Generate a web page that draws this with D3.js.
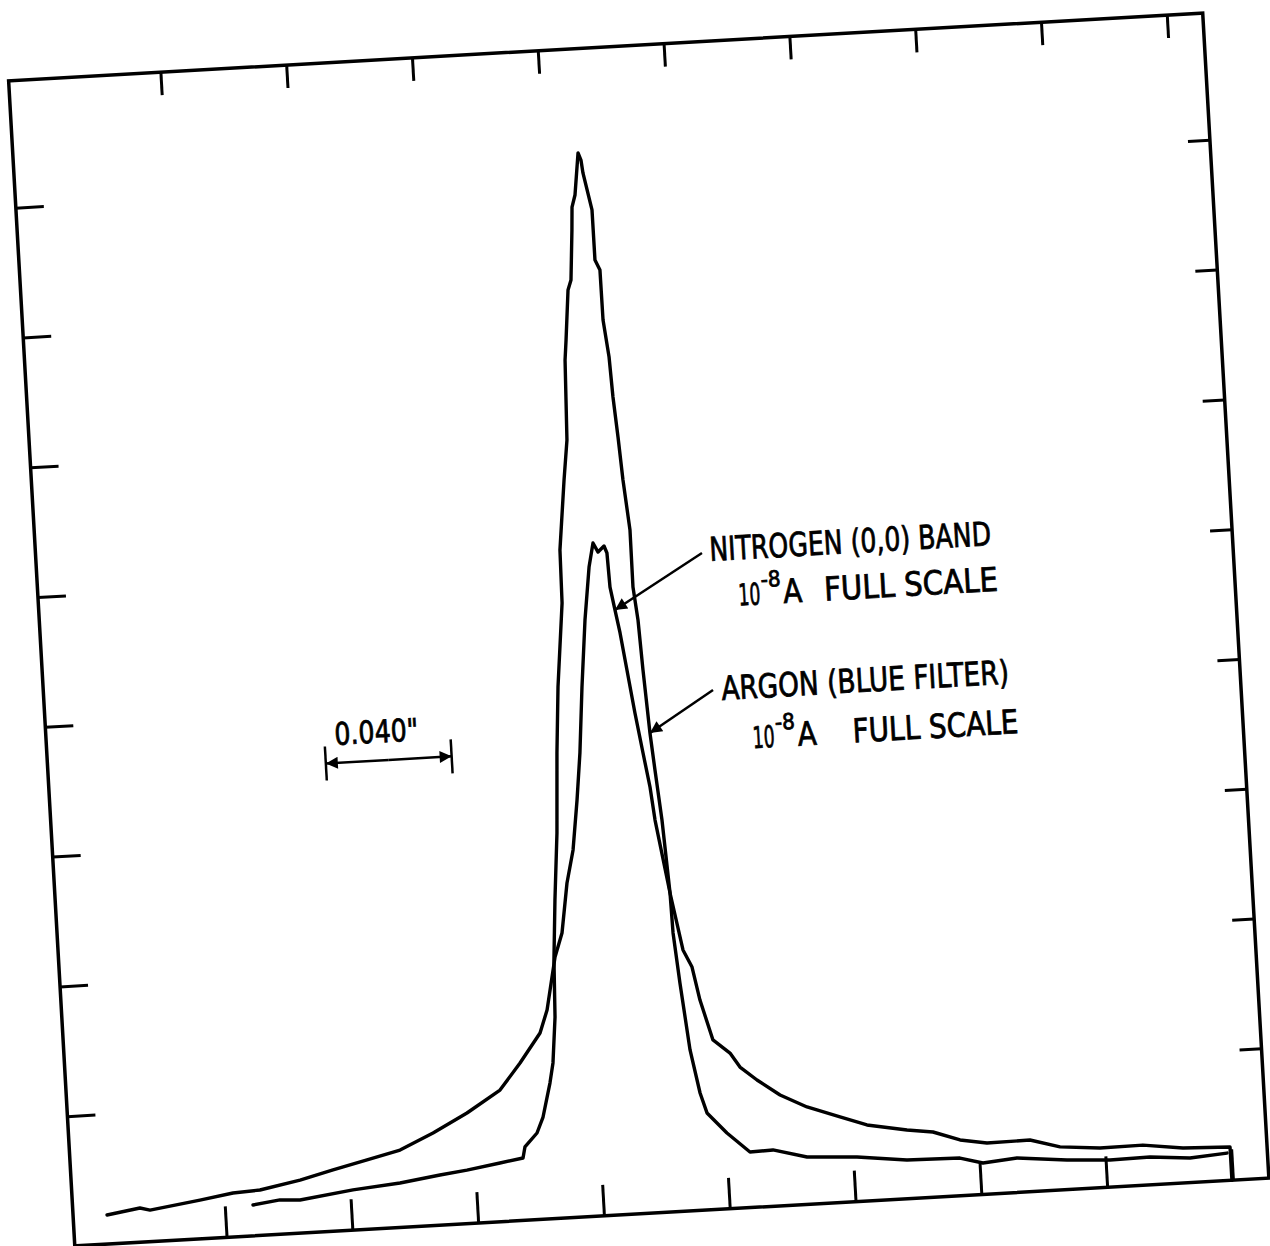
<!DOCTYPE html>
<html>
<head>
<meta charset="utf-8">
<script src="https://cdn.jsdelivr.net/npm/d3@7"></script>
<style>
  html, body { margin: 0; padding: 0; background: #fff; }
  svg { display: block; }
</style>
</head>
<body>
<div id="chart"></div>
<script>
// chart-paper divisions (x: 0.040" per division, y: fraction of full scale)
const xTicks = [1, 2, 3, 4, 5, 6, 7, 8, 9];
const yTicks = [1, 2, 3, 4, 5, 6, 7, 8];

// nitrogen (0,0) band trace
const nitrogen = [
  [0.063, 0.224], [0.327, 0.263], [0.406, 0.243], [0.806, 0.298], [1.071, 0.338],
  [1.286, 0.349], [1.608, 0.408], [1.874, 0.471], [2.148, 0.533], [2.414, 0.595],
  [2.683, 0.711], [2.961, 0.850], [3.233, 1.012], [3.404, 1.211], [3.576, 1.433],
  [3.642, 1.606], [3.729, 2.010], [3.795, 2.191], [3.857, 2.573], [3.920, 2.824],
  [3.974, 3.206], [4.018, 3.566], [4.064, 4.072], [4.118, 4.585], [4.174, 4.990],
  [4.216, 5.173], [4.252, 5.101], [4.302, 5.145], [4.322, 5.090], [4.331, 4.827],
  [4.360, 4.649], [4.390, 4.470], [4.428, 4.183], [4.472, 3.849], [4.518, 3.538],
  [4.558, 3.274], [4.583, 3.018], [4.669, 2.451], [4.746, 2.008], [4.810, 1.873],
  [4.858, 1.616], [4.943, 1.304], [5.072, 1.196], [5.145, 1.084], [5.274, 0.977],
  [5.450, 0.852], [5.658, 0.748], [5.915, 0.657], [6.125, 0.584], [6.440, 0.528],
  [6.645, 0.501], [6.856, 0.428], [7.068, 0.393], [7.410, 0.397], [7.645, 0.331],
  [7.961, 0.305], [8.303, 0.309], [8.619, 0.269], [8.992, 0.256], [8.992, 0.0]
];

// argon (blue filter) trace
const argon = [
  [1.224, 0.237], [1.440, 0.264], [1.599, 0.255], [2.023, 0.309], [2.399, 0.342],
  [2.719, 0.386], [2.935, 0.412], [3.200, 0.452], [3.385, 0.480], [3.405, 0.564],
  [3.507, 0.666], [3.562, 0.786], [3.632, 1.044], [3.665, 1.197], [3.702, 1.549],
  [3.719, 1.987], [3.754, 2.448], [3.800, 2.961], [3.836, 3.576], [3.874, 4.082],
  [3.944, 4.725], [3.951, 5.133], [4.015, 5.669], [4.056, 5.975], [4.077, 6.590],
  [4.094, 6.744], [4.132, 7.127], [4.160, 7.202], [4.190, 7.586], [4.201, 7.762],
  [4.230, 7.853], [4.273, 8.175], [4.293, 8.119], [4.303, 8.019], [4.358, 7.731],
  [4.359, 7.345], [4.394, 7.266], [4.396, 6.881], [4.427, 6.594], [4.440, 6.285],
  [4.462, 5.976], [4.482, 5.644], [4.515, 5.256], [4.513, 4.817], [4.538, 4.562],
  [4.555, 4.176], [4.582, 3.689], [4.605, 3.402], [4.638, 3.015], [4.669, 2.451],
  [4.675, 2.143], [4.707, 1.756], [4.757, 1.237], [4.817, 0.902], [4.863, 0.746],
  [5.012, 0.583], [5.186, 0.427], [5.369, 0.433], [5.636, 0.364], [6.032, 0.342],
  [6.426, 0.297], [6.847, 0.289], [7.027, 0.241], [7.299, 0.265], [7.694, 0.227],
  [8.035, 0.209], [8.353, 0.214], [8.670, 0.189], [8.965, 0.211]
];

const labelNitrogen = ['NITROGEN (0,0) BAND', '10', '-8', 'A', 'FULL SCALE'];
const labelArgon = ['ARGON (BLUE FILTER)', '10', '-8', 'A', 'FULL SCALE'];
const scaleLabel = '0.040"';
const scaleSpan = [2, 3];

const width = 1270;
const height = 1246;
const W = 1196;
const H = 1167;
const font = '"DejaVu Sans", sans-serif';

const x = d3.scaleLinear().domain([-26 / 126, (W - 26) / 126]).range([0, W]);
const y = d3.scaleLinear().domain([0, H / 130]).range([H, 0]);

const svg = d3.select('#chart')
  .append('svg')
  .attr('width', width)
  .attr('height', height)
  .attr('viewBox', [0, 0, width, height]);

svg.append('rect').attr('width', width).attr('height', height).attr('fill', '#fff');

// the scanned sheet is tilted a little
const g = svg.append('g')
  .attr('transform', `translate(638.75,629.5) rotate(-3.25) translate(${-W / 2},${-H / 2})`);

g.append('rect')
  .attr('width', W)
  .attr('height', H)
  .attr('fill', 'none')
  .attr('stroke', '#000')
  .attr('stroke-width', 3.5);

function ticks(axis, tx, ty, size) {
  const a = g.append('g')
    .attr('transform', `translate(${tx},${ty})`)
    .call(axis.tickValues(axis.scale() === x ? xTicks : yTicks)
      .tickSizeInner(-size).tickSizeOuter(0).tickFormat(''));
  a.select('.domain').remove();
  a.selectAll('line').attr('stroke', '#000').attr('stroke-width', 3);
}
ticks(d3.axisBottom(x), 0, H, 31);
ticks(d3.axisTop(x), 0, 0, 23);
ticks(d3.axisLeft(y), 0, 0, 28);
ticks(d3.axisRight(y), W, 0, 22);

const line = d3.line().x(d => x(d[0])).y(d => y(d[1]));

[nitrogen, argon].forEach(series => {
  g.append('path')
    .datum(series)
    .attr('d', line)
    .attr('fill', 'none')
    .attr('stroke', '#000')
    .attr('stroke-width', 3.4)
    .attr('stroke-linejoin', 'round')
    .attr('stroke-linecap', 'round');
});

// arrowhead
svg.append('defs').append('marker')
  .attr('id', 'head')
  .attr('viewBox', '0 0 10 10')
  .attr('refX', 10).attr('refY', 5)
  .attr('markerWidth', 24).attr('markerHeight', 12)
  .attr('markerUnits', 'userSpaceOnUse')
  .attr('orient', 'auto')
  .append('path').attr('d', 'M0,0L10,5L0,10z').attr('fill', '#000');

function arrow(from, to) {
  g.append('line')
    .attr('x1', x(from[0])).attr('y1', y(from[1]))
    .attr('x2', x(to[0])).attr('y2', y(to[1]))
    .attr('stroke', '#000').attr('stroke-width', 2.5)
    .attr('marker-end', 'url(#head)');
}

function txt(px, py, size, len, s) {
  return g.append('text')
    .attr('x', px).attr('y', py)
    .attr('font-family', font).attr('font-size', size)
    .attr('fill', '#000').attr('stroke', '#000').attr('stroke-width', 0.8)
    .attr('textLength', len).attr('lengthAdjust', 'spacingAndGlyphs')
    .text(s);
}

function label(lines, p1, p2, len1, gap, len2) {
  txt(x(p1[0]), y(p1[1]), 33, len1, lines[0]);
  const x0 = x(p2[0]);
  const y0 = y(p2[1]);
  txt(x0 - 2, y0, 30, 22, lines[1]);
  txt(x0 + 21, y0 - 17, 22, 20, lines[2]);
  txt(x0 + 43, y0, 33, 19, lines[3]);
  txt(x0 + gap, y0, 33, len2, lines[4]);
}

label(labelNitrogen, [5.135, 4.983], [5.36, 4.629], 282, 84, 174);
arrow([5.075, 5.048], [4.360, 4.649]);
label(labelArgon, [5.167, 3.911], [5.41, 3.527], 288, 98, 166);
arrow([5.101, 3.992], [4.582, 3.689]);

// dimension marker
const dimY = 3.596;
txt(x(2.081), y(3.734), 31, 84, scaleLabel);
scaleSpan.forEach(v => {
  g.append('line')
    .attr('x1', x(v)).attr('x2', x(v))
    .attr('y1', y(dimY) - 17).attr('y2', y(dimY) + 17)
    .attr('stroke', '#000').attr('stroke-width', 2.5);
});
const mid = (x(scaleSpan[0]) + x(scaleSpan[1])) / 2;
scaleSpan.forEach(v => {
  g.append('line')
    .attr('x1', mid).attr('y1', y(dimY))
    .attr('x2', x(v)).attr('y2', y(dimY))
    .attr('stroke', '#000').attr('stroke-width', 2.5)
    .attr('marker-end', 'url(#head)');
});
</script>
</body>
</html>
